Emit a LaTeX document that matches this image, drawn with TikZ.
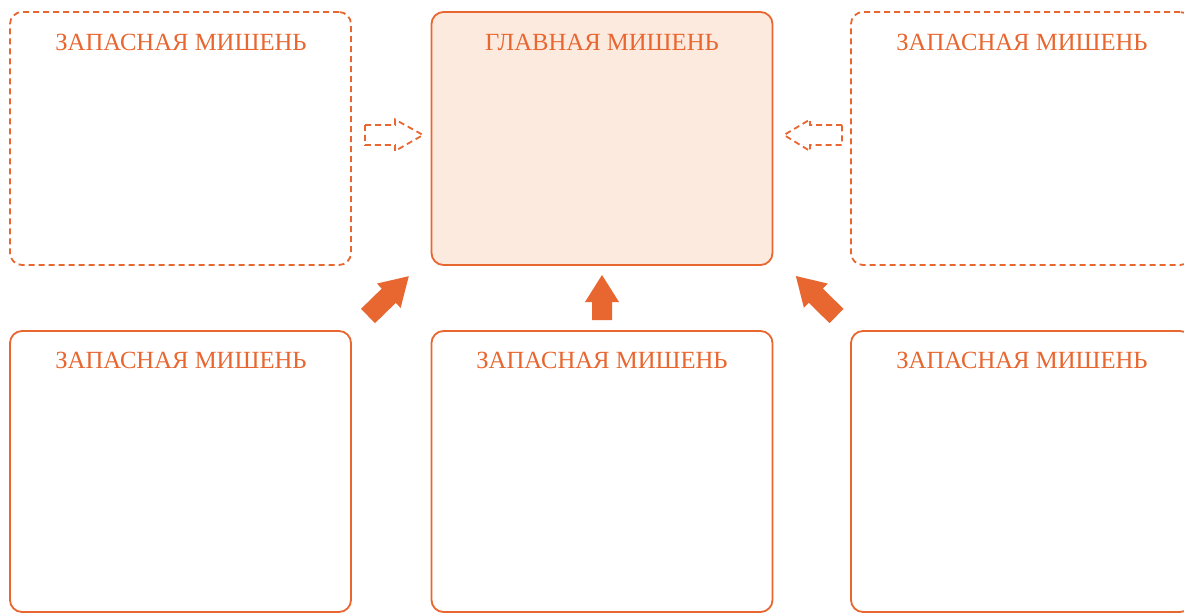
\documentclass[tikz,border=0pt]{standalone}
\usepackage{fontspec}
\setmainfont{Liberation Serif}
\definecolor{org}{HTML}{E8662F}
\definecolor{peach}{HTML}{FDEADF}
\tikzset{
  box/.style={draw=org, line width=1.8pt, rounded corners=12pt, minimum width=341pt, inner sep=0pt, outer sep=0pt},
  dbox/.style={box, dash pattern=on 6pt off 4pt},
  ttl/.style={text=org, font=\fontsize{24.7}{28}\selectfont, anchor=base, inner sep=0pt},
  bigarr/.style={fill=org, draw=none},
  darr/.style={draw=org, line width=1.8pt, dash pattern=on 6pt off 4pt, fill=white}
}
\begin{document}
\begin{tikzpicture}[x=1pt,y=-1pt]
\useasboundingbox (0,0) rectangle (1184,613);
\clip (0,0) rectangle (1184,613);
\fill[white] (0,0) rectangle (1184,613);
% boxes
\node[dbox, minimum height=253pt] (tl) at (180.5,138.5) {};
\node[box, fill=peach, minimum height=253pt] (tm) at (602,138.5) {};
\node[dbox, minimum height=253pt] (tr) at (1021.5,138.5) {};
\node[box, minimum height=281pt] (bl) at (180.5,471.5) {};
\node[box, minimum height=281pt] (bm) at (602,471.5) {};
\node[box, minimum height=281pt] (br) at (1021.5,471.5) {};
% titles
\node[ttl] (tlt) at (181,50) {ЗАПАСНАЯ МИШЕНЬ};
\node[ttl] (tmt) at (602,50) {ГЛАВНАЯ МИШЕНЬ};
\node[ttl] (trt) at (1022,50) {ЗАПАСНАЯ МИШЕНЬ};
\node[ttl] (blt) at (181,368) {ЗАПАСНАЯ МИШЕНЬ};
\node[ttl] (bmt) at (602,368) {ЗАПАСНАЯ МИШЕНЬ};
\node[ttl] (brt) at (1022,368) {ЗАПАСНАЯ МИШЕНЬ};
% dashed arrows
\draw[darr] (365,125) -- (395,125) -- (395,119.5) -- (423,135) -- (395,151) -- (395,145) -- (365,145) -- cycle;
\draw[darr] (842,125) -- (810,125) -- (810,119.5) -- (784,135) -- (810,151) -- (810,145) -- (842,145) -- cycle;
% solid arrows
\begin{scope}[shift={(602,320)}, rotate=90]
\fill[bigarr] (0,-10) -- (18,-10) -- (18,-17) -- (45,0) -- (18,17) -- (18,10) -- (0,10) -- cycle;
\end{scope}
\begin{scope}[shift={(368,316)}, rotate=44.3]
\fill[bigarr] (0,-10) -- (29,-10) -- (29,-17) -- (57,0) -- (29,17) -- (29,10) -- (0,10) -- cycle;
\end{scope}
\begin{scope}[shift={(836.5,316)}, rotate=135.5]
\fill[bigarr] (0,-10) -- (29,-10) -- (29,-17) -- (57,0) -- (29,17) -- (29,10) -- (0,10) -- cycle;
\end{scope}
\end{tikzpicture}
\end{document}
